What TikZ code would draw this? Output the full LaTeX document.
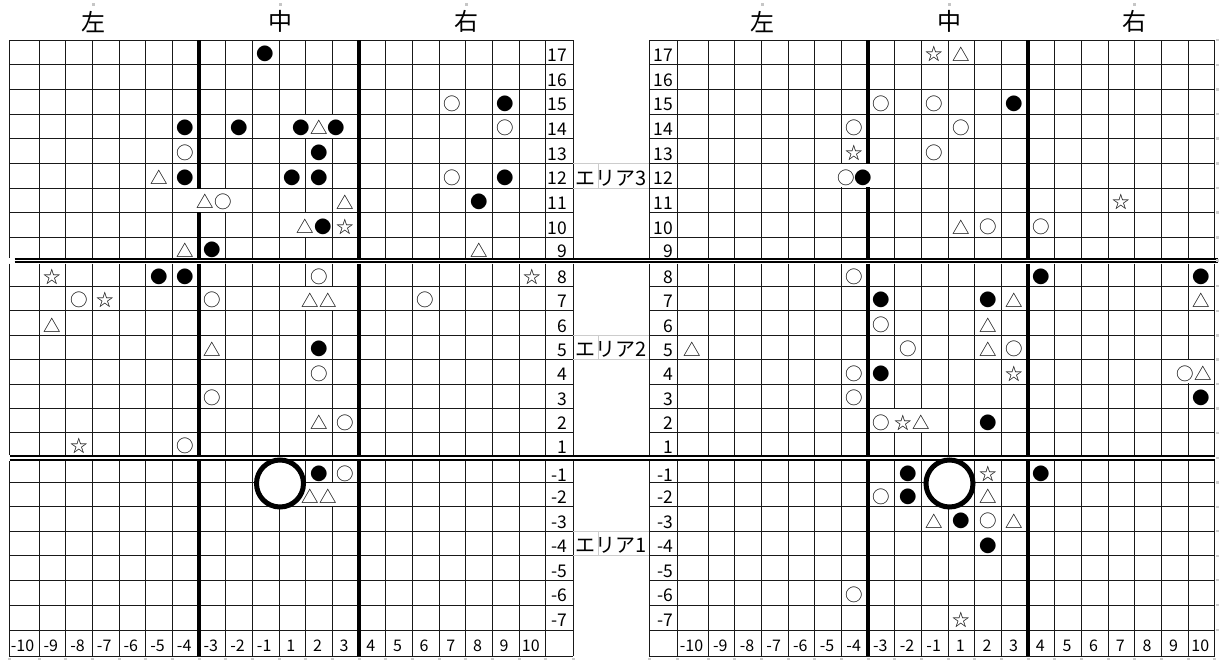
\documentclass[tikz,border=0pt]{standalone}
\usepackage{fontspec}
\setmainfont{Noto Sans CJK JP}
\newfontfamily\symfnt{Noto Sans CJK JP}
\def\defrow#1#2{\expandafter\def\csname ry#1\endcsname{#2}}
\def\ry#1{\csname ry#1\endcsname}
\defrow{17}{52.3}\defrow{16}{77}\defrow{15}{101.7}\defrow{14}{126.3}
\defrow{13}{151}\defrow{12}{175.6}\defrow{11}{200.3}\defrow{10}{225}
\defrow{9}{248}\defrow{8}{274.7}\defrow{7}{298.3}\defrow{6}{323}
\defrow{5}{347.3}\defrow{4}{371.7}\defrow{3}{396.2}\defrow{2}{420.5}
\defrow{1}{444}\defrow{-1}{472}\defrow{-2}{494.5}\defrow{-3}{518.9}
\defrow{-4}{543.4}\defrow{-5}{567.9}\defrow{-6}{592.5}\defrow{-7}{617.5}
\newcommand\symL[3]{%
  \pgfmathsetmacro\ci{(#1<0) ? (#1+10) : (#1+9)}%
  \pgfmathsetmacro\cx{(\ci==0) ? 24 : (39+(\ci-0.5)*26.6667)}%
  \node[sym] at (\cx,\ry{#2}+2) {#3};}
\newcommand\symR[3]{%
  \pgfmathsetmacro\ci{(#1<0) ? (#1+10) : (#1+9)}%
  \pgfmathsetmacro\cx{(\ci==0) ? 692.5 : (708+(\ci-0.5)*26.6667)}%
  \node[sym] at (\cx,\ry{#2}+2) {#3};}
\begin{document}
\begin{tikzpicture}[x=1pt,y=-1pt,
  gridline/.style={line width=1pt, black!90},
  heavyline/.style={line width=4pt, black},
  dblline/.style={line width=2.3pt, black},
  sym/.style={font=\symfnt\fontsize{17.5}{17.5}\selectfont, inner sep=0pt},
  rowlab/.style={font=\fontsize{17.5}{17.5}\selectfont, inner sep=0pt, anchor=east},
  collab/.style={font=\fontsize{16}{16}\selectfont, inner sep=0pt},
  head/.style={font=\fontsize{24}{24}\selectfont, inner sep=0pt},
  area/.style={font=\fontsize{20}{20}\selectfont, inner sep=0pt, anchor=base east},
  faint/.style={gray!40, line width=0.8pt}]
\fill[white] (0,0) rectangle (1224,664);
\useasboundingbox (0,0) rectangle (1224,664);

% horizontal grid lines
\foreach \y in {40,64.7,89.3,114,138.6,163.3,188,212.6,237.3,286,310.7,335.3,359.3,384,408.3,432.7,482.3,506.7,531,555.7,580,605,630,656} {
  \draw[gridline] (9,\y) -- (573.3,\y);
  \draw[gridline] (649.3,\y) -- (1214.7,\y);
}
% vertical thin lines
\foreach \x in {9,39,65.667,92.333,119,145.667,172.333,225.667,252.333,279,305.667,332.333,385.667,412.333,439,465.667,492.333,519,545.667,573.3,649.3,677,708,734.667,761.333,788,814.667,841.333,894.667,921.333,948,974.667,1001.333,1054.667,1081.333,1108,1134.667,1161.333,1188,1214.667} {
  \draw[gridline] (\x,40) -- (\x,257.5) (\x,263.5) -- (\x,455.1) (\x,461.3) -- (\x,656);
}
% heavy vertical lines
\foreach \x in {199,359,868,1028} {
  \draw[heavyline] (\x,40) -- (\x,257.5) (\x,263.5) -- (\x,455.1) (\x,461.3) -- (\x,656);
}
% double horizontal lines
\draw[dblline] (14.5,258.8) -- (1218.3,258.8) (14.5,262.3) -- (1218.3,262.3);
\draw[dblline] (9.5,456.2) -- (1214.7,456.2) (9.5,460.1) -- (1214.7,460.1);

% gaps where cell text overflows
\foreach \x/\a/\b in {199/188/212.6, 225.667/188/212.6, 305.667/114/138.6, 332.333/114/138.6, 305.667/212.6/237.3, 305.667/286/310.7, 332.333/286/310.7, 305.667/482.3/506.7, 332.333/482.3/506.7, 841.333/163.3/188, 868/163.3/188, 894.667/408.3/432.7, 921.333/408.3/432.7, 1188/359.3/384}
  \fill[white] (\x-2.6,\a+0.7) rectangle (\x+2.6,\b-0.7);

% faint cells behind area labels
\foreach \a/\b in {163.3/188, 335.3/359.3, 531/555.7}
  \draw[faint] (573.3,\a) -- (649.3,\a) (573.3,\b) -- (649.3,\b) (598.8,\a) -- (598.8,\b);

% faint handle marks
\foreach \x in {93,280,466,762,949,1134}
  \fill[gray!45] (\x-1.5,3) rectangle (\x+1.5,6);
\foreach \x in {9,39,65.667,92.333,119,145.667,172.333,199,225.667,252.333,279,305.667,332.333,359,385.667,412.333,439,465.667,492.333,519,545.667,573.3,649.3,677,708,734.667,761.333,788,814.667,841.333,868,894.667,921.333,948,974.667,1001.333,1028,1054.667,1081.333,1108,1134.667,1161.333,1188,1214.667}
  \fill[gray!40] (\x-1.5,657.5) rectangle (\x+1.5,660);
\foreach \y in {40,64.7,89.3,114,138.6,163.3,188,212.6,237.3,260.5,286,310.7,335.3,359.3,384,408.3,432.7,458,482.3,506.7,531,555.7,580,605,630}
  \fill[gray!40] (1216,\y-1.2) rectangle (1219,\y+1.2);

% big circles
\draw[line width=5pt, fill=white] (280,483.5) circle[radius=23.5pt];
\draw[line width=5pt, fill=white] (949.5,483.5) circle[radius=23.5pt];

% headers
\node[head] (hl1) at (93,21.7) {左};
\node[head] (hc1) at (280,21.7) {中};
\node[head] (hr1) at (466,21.7) {右};
\node[head] (hl2) at (762,21.7) {左};
\node[head] (hc2) at (949,21.7) {中};
\node[head] (hr2) at (1134,21.7) {右};

% area labels
\node[area] (a3) at (647,185) {エリア3};
\node[area] (a2) at (647,356.7) {エリア2};
\node[area] (a1) at (647,552.8) {エリア1};

% row labels
\foreach \r in {17,16,...,1,-1,-2,-3,-4,-5,-6,-7} {
  \node[rowlab] at (567.5,\ry{\r}+3) {\r};
  \node[rowlab] at (673,\ry{\r}+3) {\r};
}
% column labels
\foreach \t [count=\i from 0] in {-10,-9,-8,-7,-6,-5,-4,-3,-2,-1,1,2,3,4,5,6,7,8,9,10} {
  \pgfmathsetmacro\cl{(\i==0) ? 24 : (39+(\i-0.5)*26.6667)}
  \pgfmathsetmacro\cr{(\i==0) ? 692.5 : (708+(\i-0.5)*26.6667)}
  \node[collab] at (\cl-1.5,645.5) {\t};
  \node[collab] at (\cr-1,645.5) {\t};
}

% left grid symbols
\symL{-1}{17}{●}
\symL{7}{15}{○}\symL{9}{15}{●}
\symL{-4}{14}{●}\symL{-2}{14}{●}\symL{2}{14}{●△●}\symL{9}{14}{○}
\symL{-4}{13}{○}\symL{2}{13}{●}
\symL{-5}{12}{△}\symL{-4}{12}{●}\symL{1}{12}{●}\symL{2}{12}{●}\symL{7}{12}{○}\symL{9}{12}{●}
\node[sym] at (214,\ry{11}+2) {△○};
\symL{3}{11}{△}\symL{8}{11}{●}
\node[sym] at (314,\ry{10}+2) {△●};
\symL{3}{10}{☆}
\symL{-4}{9}{△}\symL{-3}{9}{●}\symL{8}{9}{△}
\symL{-9}{8}{☆}\symL{-5}{8}{●}\symL{-4}{8}{●}\symL{2}{8}{○}\symL{10}{8}{☆}
\symL{-8}{7}{○}\symL{-7}{7}{☆}\symL{-3}{7}{○}\symL{2}{7}{△△}\symL{6}{7}{○}
\symL{-9}{6}{△}
\symL{-3}{5}{△}\symL{2}{5}{●}
\symL{2}{4}{○}
\symL{-3}{3}{○}
\symL{2}{2}{△}\symL{3}{2}{○}
\symL{-8}{1}{☆}\symL{-4}{1}{○}
\symL{2}{-1}{●}\symL{3}{-1}{○}
\symL{2}{-2}{△△}

% right grid symbols
\symR{-1}{17}{☆}\symR{1}{17}{△}
\symR{-3}{15}{○}\symR{-1}{15}{○}\symR{3}{15}{●}
\symR{-4}{14}{○}\symR{1}{14}{○}
\symR{-4}{13}{☆}\symR{-1}{13}{○}
\symR{-4}{12}{○●}
\symR{7}{11}{☆}
\symR{1}{10}{△}\symR{2}{10}{○}\symR{4}{10}{○}
\symR{-4}{8}{○}\symR{4}{8}{●}\symR{10}{8}{●}
\symR{-3}{7}{●}\symR{2}{7}{●}\symR{3}{7}{△}\symR{10}{7}{△}
\symR{-3}{6}{○}\symR{2}{6}{△}
\symR{-10}{5}{△}\symR{-2}{5}{○}\symR{2}{5}{△}\symR{3}{5}{○}
\symR{-4}{4}{○}\symR{-3}{4}{●}\symR{3}{4}{☆}
\node[sym] at (1194,\ry{4}+2) {○△};
\symR{-4}{3}{○}\symR{10}{3}{●}
\symR{-3}{2}{○}
\node[sym] at (912,\ry{2}+2) {☆△};
\symR{2}{2}{●}
\symR{-2}{-1}{●}\symR{2}{-1}{☆}\symR{4}{-1}{●}
\symR{-3}{-2}{○}\symR{-2}{-2}{●}\symR{2}{-2}{△}
\symR{-1}{-3}{△}\symR{1}{-3}{●}\symR{2}{-3}{○}\symR{3}{-3}{△}
\symR{2}{-4}{●}
\symR{-4}{-6}{○}
\symR{1}{-7}{☆}
\end{tikzpicture}
\end{document}
